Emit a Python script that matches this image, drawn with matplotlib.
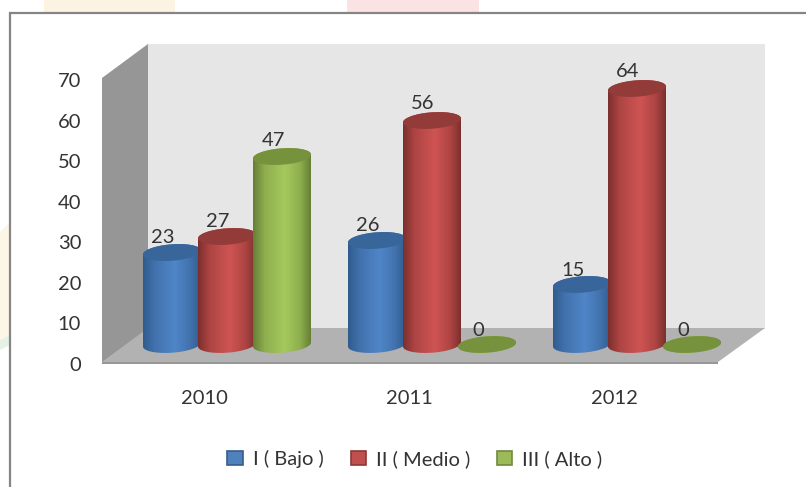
import numpy as np
import matplotlib
matplotlib.use('Agg')
import matplotlib.pyplot as plt
from matplotlib.colors import LinearSegmentedColormap
from matplotlib.patches import Patch, Polygon, Rectangle

years = ['2010', '2011', '2012']
series_names = ['I ( Bajo )', 'II ( Medio )', 'III ( Alto )']
bajo = [23, 26, 15]
medio = [27, 56, 64]
alto = [47, 0, 0]
y_ticks = [0, 10, 20, 30, 40, 50, 60, 70]

W, H = 806, 487
TEXT = '#333333'
FS = 14.5

plt.rcParams['font.family'] = ['Lato', 'DejaVu Sans']


def px_axes(fig, x0, y0, x1, y1):
    # axes placed by pixel box, y measured from the top of the image
    ax = fig.add_axes([x0 / W, 1 - y1 / H, (x1 - x0) / W, (y1 - y0) / H])
    ax.patch.set_alpha(0)
    return ax


def draw_cylinder(ax, cx, value, width, cmap, top_color):
    a = width / 2
    b = 2.05  # half height of the ellipse, in value units
    k = 0.5   # tilt of the ellipse, right side up

    def ring(t, level):
        return np.column_stack([cx + a * np.cos(t), level + b * np.sin(t) + k * np.cos(t)])

    lower = ring(np.linspace(np.pi, 2 * np.pi, 60), 0)
    upper = ring(np.linspace(0, np.pi, 60), value)
    body = Polygon(np.vstack([lower, upper]), closed=True, fc='none', ec='none', zorder=3)
    ax.add_patch(body)
    img = ax.imshow(np.linspace(0, 1, 200).reshape(1, -1), cmap=cmap, aspect='auto', zorder=3,
                    extent=(cx - a, cx + a, -b - 1, value + b + 1), interpolation='bilinear')
    img.set_clip_path(body)
    ax.add_patch(Polygon(ring(np.linspace(0, 2 * np.pi, 120), value), closed=True,
                         fc=top_color, ec='none', zorder=3, clip_on=False))


def gradient(edge, shade, mid):
    stops = [(0, edge), (0.2, shade), (0.55, mid), (0.82, shade), (1, edge)]
    return LinearSegmentedColormap.from_list('cyl', stops)


fig = plt.figure(figsize=(W / 100, H / 100), dpi=100, facecolor='white')

# pixel canvas for the page scraps, the frame and the 3D walls
base = px_axes(fig, 0, 0, W, H)
base.set_xlim(0, W)
base.set_ylim(H, 0)
base.axis('off')
base.add_patch(Rectangle((44, 0), 131, 12, fc='#fdf3e3', ec='none'))
base.add_patch(Rectangle((347, 0), 132, 12, fc='#fbe3e4', ec='none'))
base.add_patch(Polygon([(0, 232), (10, 222), (10, 335), (0, 340)], fc='#fdf6e6', ec='none'))
base.add_patch(Polygon([(0, 340), (10, 335), (10, 345), (0, 350)], fc='#e6f1e6', ec='none'))
base.plot([W, 10, 10], [13, 13, H], color='#858585', lw=1.6, solid_joinstyle='miter')
base.add_patch(Polygon([(148, 44), (765, 44), (765, 329), (148, 329)], fc='#e6e6e6', ec='none'))
base.add_patch(Polygon([(102, 78), (148, 44), (148, 330), (102, 364)], fc='#969696', ec='none'))
base.add_patch(Polygon([(102, 362), (148, 328), (765, 328), (718, 362)], fc='#b2b2b2', ec='none'))
base.add_patch(Rectangle((102, 362), 616, 2, fc='#979797', ec='none'))

# cylinders sit further back, so they have their own scale
bars = px_axes(fig, 102, 44, 765, 364)
bars.axis('off')
step = 55 / 205
bar_w = 58 / 205
series = [bajo, medio, alto]
cmaps = [gradient('#2f5b8e', '#4272ad', '#4f86c8'),
         gradient('#7c2f2e', '#ad4543', '#cf5453'),
         gradient('#667f35', '#8dae4e', '#a6c95d')]
tops = ['#38659a', '#933b39', '#76923c']
for i, vals in enumerate(series):
    for j, v in enumerate(vals):
        draw_cylinder(bars, j + (i - 1) * step, v, bar_w, cmaps[i], tops[i])
bars.set_xlim((102 - 227) / 205, (765 - 227) / 205)
bars.set_ylim((344.5 - 364) / 4, (344.5 - 44) / 4)

# front axis: tick labels and the value labels, which follow this scale
front = px_axes(fig, 102, 80, 717, 364)
front.set_ylim(0, 70)
front.set_xlim((102 - 204) / 205, (717 - 204) / 205)
front.set_yticks(y_ticks)
front.set_xticks(range(len(years)))
front.set_xticklabels(years)
front.tick_params(axis='y', length=0, pad=15, labelsize=FS, labelcolor=TEXT)
front.tick_params(axis='x', length=0, pad=19, labelsize=FS, labelcolor=TEXT)
for s in front.spines.values():
    s.set_visible(False)
for i, vals in enumerate(series):
    for j, v in enumerate(vals):
        front.annotate(str(v), xy=(j + (i - 1) * step, v), xytext=(14 * 0.72, 33 * 0.72),
                       textcoords='offset points', ha='center', va='center',
                       fontsize=FS, color=TEXT, annotation_clip=False)

handles = [Patch(fc=c, ec=e, lw=1.2) for c, e in
           zip(['#4f81bd', '#c0504d', '#9bbb59'], ['#385d8a', '#8c3836', '#71893f'])]
fig.legend(handles, series_names, loc='center', bbox_to_anchor=(415 / W, 1 - 459 / H), ncols=3, frameon=False,
           fontsize=FS, labelcolor=TEXT, handlelength=0.75, handleheight=0.75, handletextpad=0.5, columnspacing=1.35)

fig.savefig('out.png', dpi=100)
